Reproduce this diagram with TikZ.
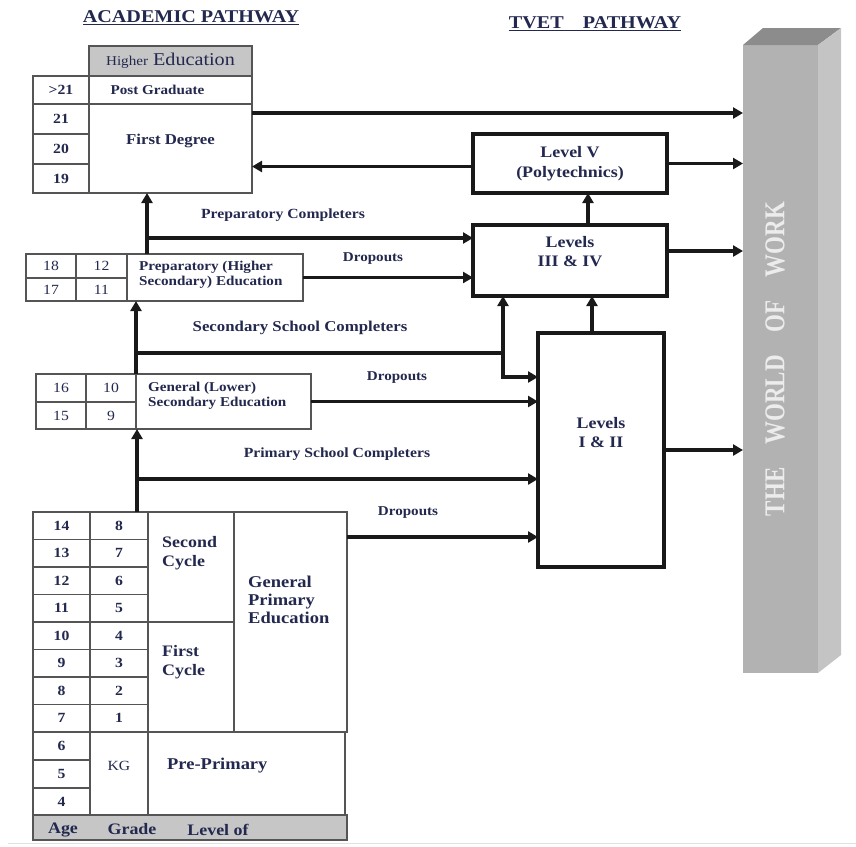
\documentclass[tikz,border=0pt]{standalone}
\usepackage{fontspec}
\setmainfont{Liberation Serif}[FakeStretch=1.12]
\newfontfamily\worldfont{Liberation Serif}
\usepackage{graphicx}
\usetikzlibrary{arrows.meta,positioning}
\definecolor{inkblue}{RGB}{35,40,78}
\definecolor{linegray}{RGB}{85,85,85}
\definecolor{headgray}{RGB}{198,198,198}
\definecolor{worldfront}{RGB}{178,178,178}
\definecolor{worldtop}{RGB}{140,140,140}
\definecolor{worldside}{RGB}{196,196,196}
\definecolor{worldtext}{RGB}{236,236,236}
\newcommand{\fsz}[2]{\fontsize{#1}{#2}\selectfont}
\newcommand{\gcell}[7][]{%
  \node[cell,minimum width={(#5)*1pt-(#3)*1pt},minimum height={(#6)*1pt-(#4)*1pt},#1]
    (#2) at ({((#3)+(#5))/2},{((#4)+(#6))/2}) {#7};}

\begin{document}
\begin{tikzpicture}[x=1pt,y=-1pt,
    cell/.style={draw=linegray,line width=1.4pt,fill=white,inner sep=0pt,outer sep=0pt,
                 text=inkblue,font=\fsz{14}{16}},
    num/.style={font=\bfseries\fsz{14}{16}},
    tvet/.style={draw=black!90,line width=3.6pt,fill=white,inner sep=0pt,outer sep=0pt},
    txt/.style={text=inkblue,font=\bfseries\fsz{14}{16},inner sep=0pt,align=left},
    lbl/.style={text=inkblue,font=\bfseries\fsz{14}{16},inner sep=1pt},
    flow/.style={line width=3.6pt,draw=black!90,-{Triangle[length=10pt,width=11pt]}}]
  \useasboundingbox (0,0) rectangle (856,846);

  % titles
  \node[lbl,font=\bfseries\fsz{18}{20}] (acad) at (191,18) {\underline{ACADEMIC PATHWAY}};
  \node[lbl,font=\bfseries\fsz{18}{20}] (tvett) at (595,24) {\underline{TVET\hspace{19pt}PATHWAY}};

  % the world of work
  \node[fill=worldfront,inner sep=0pt,outer sep=0pt,minimum width=75pt,minimum height=628pt]
       (world) at (780.5,359) {};
  \fill[worldtop] (world.north west) -- ++(20,-17) -- ++(78,0) -- (world.north east) -- cycle;
  \fill[worldside] (world.north east) -- ++(23,-17) -- ++(0,627) -- (world.south east) -- cycle;
  \node[rotate=90,text=worldtext,font=\worldfont\bfseries\fsz{23}{25},inner sep=0pt] (wotxt)
       at ([xshift=-5.5pt]world.center) {\scalebox{1}[1.25]{THE\quad WORLD\quad OF\quad WORK}};

  % higher education
  \gcell[fill=headgray,font=\fsz{18}{20}]{he}{89}{46}{252}{76}{{\fsz{13.5}{15}Higher} Education}
  \gcell[num]{pga}{33}{76}{89}{104}{>21}
  \gcell{pg}{89}{76}{252}{104}{}
  \node[txt,font=\bfseries\fsz{13.5}{15}] (pgt) at ([xshift=-13pt]pg.center) {Post Graduate};
  \gcell{fd}{89}{104}{252}{193}{}
  \node[txt,font=\bfseries\fsz{15}{17}] (fdt) at ([yshift=8pt]fd.center) {First Degree};
  \gcell[num]{a21}{33}{104}{89}{134}{21}
  \gcell[num]{a20}{33}{134}{89}{164}{20}
  \gcell[num]{a19}{33}{164}{89}{193}{19}

  % preparatory
  \gcell{a18}{26}{254}{76}{278}{18}
  \gcell{a17}{26}{278}{76}{301}{17}
  \gcell{g12}{76}{254}{127}{278}{12}
  \gcell{g11}{76}{278}{127}{301}{11}
  \gcell{prep}{127}{254}{303}{301}{}
  \node[txt,font=\bfseries\fsz{13.5}{15},right=12pt of prep.west,yshift=2.5pt] (prept)
       {Preparatory (Higher\\Secondary) Education};

  % general secondary
  \gcell{a16}{36}{374}{86}{402}{16}
  \gcell{a15}{36}{402}{86}{429}{15}
  \gcell{g10}{86}{374}{136}{402}{10}
  \gcell{g9}{86}{402}{136}{429}{9}
  \gcell{gse}{136}{374}{311}{429}{}
  \node[txt,font=\bfseries\fsz{13.5}{15},right=12pt of gse.west,yshift=5.5pt] (gset)
       {General (Lower)\\Secondary Education};

  % primary and pre-primary
  \foreach \age/\gr [count=\k from 0] in {14/8,13/7,12/6,11/5,10/4,9/3,8/2,7/1}{
    \pgfmathsetmacro\ry{512+27.5*\k}
    \gcell[num]{a\age}{33}{\ry}{90}{\ry+27.5}{\age}
    \gcell[num]{g\gr}{90}{\ry}{148}{\ry+27.5}{\gr}
  }
  \gcell{sc}{148}{512}{234}{622}{}
  \node[txt,font=\bfseries\fsz{16}{19},right=14pt of sc.west,yshift=13.5pt] (sct) {Second\\Cycle};
  \gcell{fc}{148}{622}{234}{732}{}
  \node[txt,font=\bfseries\fsz{16}{19},right=14pt of fc.west,yshift=14.5pt] (fct) {First\\Cycle};
  \gcell{gpe}{234}{512}{347}{732}{}
  \node[txt,font=\bfseries\fsz{16.5}{18},right=14pt of gpe.west,yshift=22pt] (gpet)
       {General\\Primary\\Education};
  \gcell[num]{a6}{33}{732}{90}{760}{6}
  \gcell[num]{a5}{33}{760}{90}{788}{5}
  \gcell[num]{a4}{33}{788}{90}{815}{4}
  \gcell{kg}{90}{732}{148}{815}{}
  \node[txt,font=\fsz{14}{16}] (kgt) at ([yshift=7.5pt]kg.center) {KG};
  \gcell{pp}{148}{732}{345}{815}{}
  \node[txt,font=\bfseries\fsz{16.5}{18},right=19pt of pp.west,yshift=7.5pt] (ppt) {Pre-Primary};
  \gcell[fill=headgray]{ft}{33}{815}{347}{840}{}
  \node[txt,font=\bfseries\fsz{16}{18}] (fta) at ([xshift=30pt,yshift=-2pt]ft.west) {Age};
  \node[txt,font=\bfseries\fsz{16}{18}] (ftg) at ([xshift=99pt,yshift=-2pt]ft.west) {Grade};
  \node[txt,font=\bfseries\fsz{16}{18}] (ftl) at ([xshift=185pt,yshift=-2pt]ft.west) {Level of};

  % tvet levels
  \node[tvet,minimum width=194pt,minimum height=59pt,align=center,text=inkblue,
        font=\bfseries\fsz{16}{20}] (lv5) at (570,163.5) {Level V\\(Polytechnics)};
  \node[tvet,minimum width=194pt,minimum height=71pt,below=32pt of lv5] (l34) {};
  \node[txt,align=center,font=\bfseries\fsz{16}{19}] (l34t) at ([yshift=9pt]l34.center) {Levels\\III \& IV};
  \node[tvet,minimum width=126pt,minimum height=234pt,below=37pt of l34,xshift=31pt] (l12) {};
  \node[txt,align=center,font=\bfseries\fsz{16}{19}] (l12t) at ([yshift=17pt]l12.center) {Levels\\I \& II};

  % labels
  \node[lbl] (lbpc) at (283,215) {Preparatory Completers};
  \node[lbl,font=\bfseries\fsz{13.5}{15}] (lbd1) at (373,259) {Dropouts};
  \node[lbl,font=\bfseries\fsz{15}{17}] (lbsc) at (300,328) {Secondary School Completers};
  \node[lbl,font=\bfseries\fsz{13.5}{15}] (lbd2) at (397,378) {Dropouts};
  \node[lbl] (lbpr) at (337,454) {Primary School Completers};
  \node[lbl,font=\bfseries\fsz{13.5}{15}] (lbd3) at (408,513) {Dropouts};

  % connectors
  \coordinate (fdo) at ([yshift=-9pt]fd.north east);
  \draw[flow] (fdo) -- (fdo -| world.west);
  \coordinate (lvi) at ([yshift=-3pt]lv5.west);
  \draw[flow] (lvi) -- (lvi -| fd.east);
  \draw[flow] (lv5.east) -- (lv5.east -| world.west);
  \draw[flow] ([xshift=18pt]l34.north) -- ([xshift=18pt]lv5.south);
  \coordinate (l34o) at ([yshift=9.5pt]l34.east);
  \draw[flow] (l34o) -- (l34o -| world.west);
  \draw[flow] ([xshift=-9pt]l12.north) -- ([xshift=-9pt]l12.north |- l34.south);
  \draw[flow] (l12.east) -- (l12.east -| world.west);

  \coordinate (pup) at ([xshift=20pt]prep.north west);
  \draw[flow] (pup) -- (pup |- fd.south);
  \coordinate (pcb) at ([yshift=16pt]pup);
  \draw[flow] (pcb) -- (pcb -| l34.west);
  \draw[flow] (prep.east) -- (prep.east -| l34.west);

  \draw[flow] (gse.north west) -- (gse.north west |- prep.south);
  \coordinate (scl) at ([yshift=21pt]gse.north west);
  \coordinate (l34j) at ([xshift=30pt]l34.south west);
  \coordinate (l12a) at ([yshift=-44pt]l12.north west);
  \draw[flow] (scl) -- (scl -| l34j) -- (l34j);
  \draw[flow] (scl -| l34j) |- (l12a);
  \draw[flow] (gse.east) -- (gse.east -| l12.west);

  \coordinate (pru) at ([xshift=-11pt]sc.north west);
  \draw[flow] (pru) -- (pru |- gse.south);
  \coordinate (prc) at ([yshift=33pt]pru);
  \draw[flow] (prc) -- (prc -| l12.west);
  \coordinate (gpo) at ([yshift=-25pt]gpe.north east);
  \draw[flow] (gpo) -- (gpo -| l12.west);

  \draw[black!12,line width=1pt] (8,843) -- (856,843);
\end{tikzpicture}
\end{document}
